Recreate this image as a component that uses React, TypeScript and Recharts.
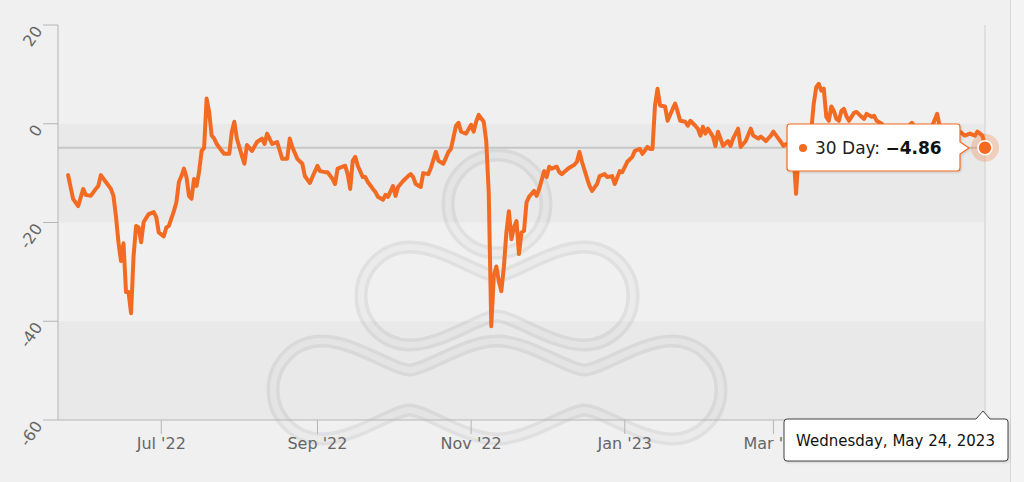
import React from "react";
import {
  LineChart,
  Line,
  XAxis,
  YAxis,
  ReferenceArea,
  ReferenceLine,
  ReferenceDot,
} from "recharts";

const dates = [
  "2022-05-25", "2022-05-27", "2022-05-29", "2022-05-31", "2022-06-01", "2022-06-03", "2022-06-05", "2022-06-06",
  "2022-06-07", "2022-06-09", "2022-06-11", "2022-06-12", "2022-06-13", "2022-06-14", "2022-06-15", "2022-06-16",
  "2022-06-17", "2022-06-18", "2022-06-19", "2022-06-20", "2022-06-21", "2022-06-22", "2022-06-23", "2022-06-24",
  "2022-06-26", "2022-06-28", "2022-06-29", "2022-06-30", "2022-07-02", "2022-07-03", "2022-07-04", "2022-07-06",
  "2022-07-07", "2022-07-08", "2022-07-09", "2022-07-10", "2022-07-11", "2022-07-12", "2022-07-13", "2022-07-14",
  "2022-07-15", "2022-07-16", "2022-07-17", "2022-07-18", "2022-07-19", "2022-07-20", "2022-07-21", "2022-07-22",
  "2022-07-23", "2022-07-25", "2022-07-26", "2022-07-28", "2022-07-29", "2022-07-30", "2022-07-31", "2022-08-02",
  "2022-08-03", "2022-08-04", "2022-08-06", "2022-08-08", "2022-08-10", "2022-08-11", "2022-08-12", "2022-08-14",
  "2022-08-16", "2022-08-18", "2022-08-20", "2022-08-21", "2022-08-22", "2022-08-24", "2022-08-26", "2022-08-27",
  "2022-08-29", "2022-08-30", "2022-09-01", "2022-09-02", "2022-09-04", "2022-09-05", "2022-09-07", "2022-09-08",
  "2022-09-09", "2022-09-11", "2022-09-12", "2022-09-13", "2022-09-14", "2022-09-15", "2022-09-16", "2022-09-17",
  "2022-09-19", "2022-09-20", "2022-09-21", "2022-09-23", "2022-09-24", "2022-09-25", "2022-09-27", "2022-09-28",
  "2022-09-29", "2022-10-01", "2022-10-02", "2022-10-03", "2022-10-05", "2022-10-07", "2022-10-08", "2022-10-09",
  "2022-10-10", "2022-10-12", "2022-10-13", "2022-10-15", "2022-10-16", "2022-10-18", "2022-10-19", "2022-10-21",
  "2022-10-23", "2022-10-24", "2022-10-26", "2022-10-27", "2022-10-28", "2022-10-30", "2022-11-01", "2022-11-02",
  "2022-11-03", "2022-11-04", "2022-11-06", "2022-11-07", "2022-11-08", "2022-11-09", "2022-11-10", "2022-11-11",
  "2022-11-12", "2022-11-13", "2022-11-14", "2022-11-15", "2022-11-16", "2022-11-17", "2022-11-18", "2022-11-19",
  "2022-11-20", "2022-11-21", "2022-11-22", "2022-11-23", "2022-11-24", "2022-11-26", "2022-11-27", "2022-11-28",
  "2022-11-30", "2022-12-01", "2022-12-02", "2022-12-03", "2022-12-05", "2022-12-06", "2022-12-07", "2022-12-09",
  "2022-12-10", "2022-12-12", "2022-12-13", "2022-12-14", "2022-12-15", "2022-12-17", "2022-12-18", "2022-12-19",
  "2022-12-21", "2022-12-22", "2022-12-24", "2022-12-25", "2022-12-27", "2022-12-28", "2022-12-30", "2022-12-31",
  "2023-01-02", "2023-01-04", "2023-01-05", "2023-01-07", "2023-01-08", "2023-01-10", "2023-01-11", "2023-01-12",
  "2023-01-13", "2023-01-14", "2023-01-15", "2023-01-17", "2023-01-18", "2023-01-20", "2023-01-21", "2023-01-22",
  "2023-01-23", "2023-01-25", "2023-01-26", "2023-01-27", "2023-01-29", "2023-01-30", "2023-01-31", "2023-02-01",
  "2023-02-02", "2023-02-03", "2023-02-05", "2023-02-06", "2023-02-07", "2023-02-08", "2023-02-09", "2023-02-11",
  "2023-02-12", "2023-02-13", "2023-02-15", "2023-02-16", "2023-02-17", "2023-02-18", "2023-02-20", "2023-02-21",
  "2023-02-23", "2023-02-24", "2023-02-26", "2023-02-28", "2023-03-01", "2023-03-03", "2023-03-04", "2023-03-05",
  "2023-03-06", "2023-03-08", "2023-03-09", "2023-03-10", "2023-03-11", "2023-03-12", "2023-03-14", "2023-03-16",
  "2023-03-17", "2023-03-18", "2023-03-19", "2023-03-20", "2023-03-21", "2023-03-22", "2023-03-23", "2023-03-24",
  "2023-03-25", "2023-03-26", "2023-03-27", "2023-03-28", "2023-03-29", "2023-03-30", "2023-03-31", "2023-04-01",
  "2023-04-02", "2023-04-03", "2023-04-05", "2023-04-06", "2023-04-07", "2023-04-09", "2023-04-10", "2023-04-11",
  "2023-04-13", "2023-04-15", "2023-04-17", "2023-04-19", "2023-04-21", "2023-04-23", "2023-04-25", "2023-04-27",
  "2023-04-29", "2023-05-01", "2023-05-03", "2023-05-05", "2023-05-06", "2023-05-08", "2023-05-10", "2023-05-12",
  "2023-05-14", "2023-05-16", "2023-05-18", "2023-05-20", "2023-05-21", "2023-05-23", "2023-05-24",
];

const thirtyDay = [
  -10.4, -15.2, -16.7, -13.2, -14.4, -14.6, -13.2, -12.6,
  -10.4, -11.8, -13.2, -14.6, -18.7, -24.0, -27.8, -24.2,
  -34.1, -34.1, -38.4, -26.8, -20.7, -21.0, -24.0, -19.9,
  -18.3, -17.9, -18.9, -22.0, -22.8, -21.0, -20.7, -17.7,
  -15.9, -11.8, -10.6, -9.1, -10.8, -14.6, -15.2, -11.2,
  -12.6, -9.8, -5.5, -4.9, 5.1, 2.4, -2.4, -3.0,
  -4.1, -5.5, -6.1, -6.1, -1.6, 0.4, -3.0, -6.5,
  -8.1, -4.3, -5.5, -3.7, -3.0, -4.1, -2.0, -4.1,
  -3.7, -7.1, -7.1, -3.0, -4.7, -7.1, -8.1, -10.6,
  -12.0, -10.8, -8.5, -9.6, -9.8, -9.8, -11.2, -12.2,
  -9.1, -8.7, -8.5, -10.2, -13.2, -7.5, -6.7, -8.5,
  -10.8, -10.8, -11.8, -13.2, -13.8, -14.8, -15.4, -14.4,
  -14.8, -12.6, -14.6, -12.8, -11.6, -10.6, -10.2, -10.8,
  -12.2, -12.8, -10.0, -10.2, -9.0, -5.7, -7.5, -8.1,
  -5.7, -5.1, -0.4, 0.2, -1.6, -2.0, -0.2, -1.6,
  0.4, 1.8, 0.4, -3.5, -14.0, -41.0, -30.9, -28.9,
  -31.9, -33.9, -29.0, -22.0, -17.7, -23.4, -21.0, -19.7,
  -26.4, -22.0, -21.7, -15.9, -14.8, -13.6, -14.6, -13.2,
  -9.6, -10.8, -8.7, -9.1, -8.7, -9.8, -10.2, -9.3,
  -8.9, -8.3, -7.7, -5.7, -7.7, -11.0, -12.6, -13.6,
  -12.2, -10.6, -10.2, -10.8, -10.6, -12.2, -9.6, -9.8,
  -7.7, -6.7, -5.5, -5.1, -6.1, -4.7, -5.1, -5.1,
  3.7, 7.1, 3.7, 3.5, 0.6, 3.0, 4.1, 2.4,
  0.6, 0.4, -0.4, 0.6, -0.4, -1.0, -2.4, -0.6,
  -2.0, -1.0, -2.6, -4.5, -1.6, -3.0, -4.5, -3.5,
  -4.5, -3.0, -1.0, -4.7, -4.1, -3.5, -1.0, -2.4,
  -3.0, -2.6, -3.5, -2.4, -1.6, -3.0, -3.7, -4.5,
  -4.1, -4.6, -6.0, -14.2, -6.0, -3.5, -2.5, -1.5,
  4.0, 7.4, 8.1, 6.7, 7.1, 1.4, 0.6, 3.5,
  2.6, 1.0, 0.6, 2.6, 3.0, 1.5, 0.6, 1.4,
  2.2, 2.4, 1.4, 1.0, 2.0, 1.4, 1.6, 0.6,
  0.0, -1.5, -2.0, -1.5, -1.0, -0.8, 0.2, -1.5,
  -2.0, -1.5, -0.5, 2.0, -0.5, -2.0, -2.5, -2.0,
  -1.6, -2.4, -2.0, -2.4, -1.6, -2.4, -4.86,
];

const tickDates = ["2022-07-01", "2022-09-01", "2022-11-01", "2023-01-01", "2023-03-01"];
const tickLabels = ["Jul '22", "Sep '22", "Nov '22", "Jan '23", "Mar '23"];
const yTicks = [-60, -40, -20, 0, 20];

const ORANGE = "#f36b22";
const FONT = "'DejaVu Sans', Verdana, sans-serif";

const data = dates.map((d, i) => ({ t: Date.parse(d), v: thirtyDay[i] }));
const xTicks = tickDates.map((d) => Date.parse(d));
const lastPoint = data[data.length - 1];

// outline of a chain of loops, used for the faint logo behind the plot
function rowPath(cs: number[], cy: number, R: number, w: number) {
  const k = R * 0.552;
  const first = cs[0];
  const last = cs[cs.length - 1];
  let d = `M ${first - R} ${cy} C ${first - R} ${cy - k} ${first - k} ${cy - R} ${first} ${cy - R}`;
  for (let i = 0; i < cs.length - 1; i++) {
    const a = cs[i], b = cs[i + 1], m = (a + b) / 2;
    d += ` C ${a + k * 1.2} ${cy - R} ${m - k * 0.6} ${cy - w} ${m} ${cy - w} C ${m + k * 0.6} ${cy - w} ${b - k * 1.2} ${cy - R} ${b} ${cy - R}`;
  }
  d += ` C ${last + k} ${cy - R} ${last + R} ${cy - k} ${last + R} ${cy} C ${last + R} ${cy + k} ${last + k} ${cy + R} ${last} ${cy + R}`;
  for (let i = cs.length - 1; i > 0; i--) {
    const a = cs[i], b = cs[i - 1], m = (a + b) / 2;
    d += ` C ${a - k * 1.2} ${cy + R} ${m + k * 0.6} ${cy + w} ${m} ${cy + w} C ${m - k * 0.6} ${cy + w} ${b + k * 1.2} ${cy + R} ${b} ${cy + R}`;
  }
  d += ` C ${first - k} ${cy + R} ${first - R} ${cy + k} ${first - R} ${cy} Z`;
  return d;
}

function Watermark() {
  const shapes = [
    rowPath([410, 584], 296, 49, 20),
    rowPath([322, 497, 672], 390, 49, 20),
  ];
  return (
    <svg width={1024} height={482} style={{ position: "absolute", left: 0, top: 0 }}>
      <circle cx={497} cy={204} r={49} fill="none" stroke="#e0e0e0" strokeWidth={13} />
      <circle cx={497} cy={204} r={49} fill="none" stroke="#ebebeb" strokeWidth={6} />
      {shapes.map((d, i) => (
        <g key={i}>
          <path d={d} fill="none" stroke="#e0e0e0" strokeWidth={13} />
          <path d={d} fill="none" stroke="#ebebeb" strokeWidth={6} />
        </g>
      ))}
    </svg>
  );
}

const YTick = (props: any) => {
  const { x, y, payload } = props;
  return (
    <text
      x={x + 2}
      y={y + 6}
      transform={`rotate(-55 ${x + 2} ${y + 6})`}
      textAnchor="end"
      fill="#666"
      fontSize={16}
      fontFamily={FONT}
    >
      {payload.value}
    </text>
  );
};

function Tooltips() {
  return (
    <svg width={1024} height={482} style={{ position: "absolute", left: 0, top: 0 }}>
      <defs>
        <filter id="sh" x="-10%" y="-20%" width="120%" height="150%">
          <feDropShadow dx="1" dy="1" stdDeviation="1" floodColor="#000" floodOpacity="0.15" />
        </filter>
      </defs>
      <path
        d="M 790 124 H 957 Q 960 124 960 127 V 142 L 969 148 L 960 154 V 168 Q 960 171 957 171 H 790 Q 787 171 787 168 V 127 Q 787 124 790 124 Z"
        fill="#fff"
        stroke={ORANGE}
        strokeWidth={1.2}
        filter="url(#sh)"
      />
      <circle cx={803} cy={148} r={4} fill={ORANGE} />
      <text x={815} y={154} fontSize={17} fontFamily={FONT} fill="#222">
        30 Day: <tspan fontWeight="bold" fill="#111">−4.86</tspan>
      </text>
      <path
        d="M 787 419 H 976 L 983 411 L 990 419 H 1005 Q 1008 419 1008 422 V 458 Q 1008 461 1005 461 H 787 Q 784 461 784 458 V 422 Q 784 419 787 419 Z"
        fill="#fff"
        stroke="#444"
        strokeWidth={1}
        filter="url(#sh)"
      />
      <text x={796} y={446} fontSize={15} fontFamily={FONT} fill="#111">
        Wednesday, May 24, 2023
      </text>
    </svg>
  );
}

export default function App() {
  return (
    <div
      style={{
        position: "absolute",
        left: 0,
        top: 0,
        width: 1024,
        height: 482,
        background: "#f0f0f0",
        overflow: "hidden",
      }}
    >
      <div
        style={{
          position: "absolute",
          left: 1010,
          top: 0,
          width: 14,
          height: 482,
          background: "#f4f4f4",
          borderLeft: "1px solid #d8d8d8",
        }}
      />
      <Watermark />
      <div style={{ position: "absolute", left: 0, top: 0 }}>
        <LineChart
          width={1024}
          height={482}
          data={data}
          margin={{ top: 25, right: 39, bottom: 0, left: 0 }}
        >
          <ReferenceArea y1={-20} y2={0} fill="#000" fillOpacity={0.028} stroke="none" />
          <ReferenceArea y1={-60} y2={-40} fill="#000" fillOpacity={0.028} stroke="none" />
          <XAxis
            type="number"
            dataKey="t"
            domain={[Date.parse("2022-05-21"), Date.parse("2023-05-24")]}
            ticks={xTicks}
            tickFormatter={(t: number) => tickLabels[xTicks.indexOf(t)]}
            height={62}
            tickSize={14}
            tickMargin={4}
            stroke="#b5b5b5"
            tick={{ fill: "#666", fontSize: 16, fontFamily: FONT }}
          />
          <YAxis
            type="number"
            domain={[-60, 20]}
            ticks={yTicks}
            width={58}
            tickSize={15}
            tickMargin={2}
            stroke="#b5b5b5"
            tick={<YTick />}
            interval={0}
          />
          <ReferenceLine y={-4.86} stroke="#c6c6c6" strokeWidth={2} />
          <ReferenceLine x={lastPoint.t} stroke="#cfcfcf" strokeWidth={1} />
          <Line
            type="linear"
            dataKey="v"
            stroke={ORANGE}
            strokeWidth={4}
            strokeLinejoin="round"
            strokeLinecap="round"
            dot={false}
            isAnimationActive={false}
          />
          <ReferenceDot x={lastPoint.t} y={lastPoint.v} r={14} fill={ORANGE} fillOpacity={0.25} stroke="none" />
          <ReferenceDot x={lastPoint.t} y={lastPoint.v} r={7} fill={ORANGE} stroke="#fff" strokeWidth={1.5} />
        </LineChart>
      </div>
      <Tooltips />
    </div>
  );
}
